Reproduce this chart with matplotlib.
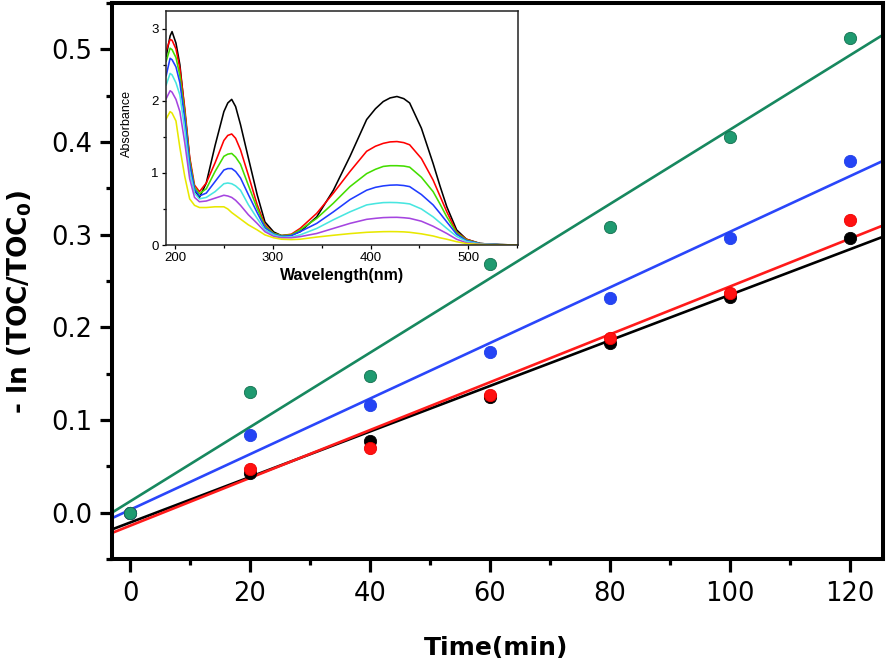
import numpy as np
import matplotlib
matplotlib.use("Agg")
import matplotlib.pyplot as plt
from matplotlib.ticker import MultipleLocator, FormatStrFormatter

# ---------------- main chart data ----------------
time_min = [0, 20, 40, 60, 80, 100, 120]
series_black = [0.0, 0.0427, 0.077, 0.125, 0.1834, 0.2326, 0.2967]
series_red = [0.0, 0.0475, 0.0697, 0.1265, 0.1888, 0.237, 0.316]
series_blue = [0.0, 0.084, 0.1165, 0.173, 0.2315, 0.2967, 0.380]
series_green = [0.0, 0.130, 0.147, 0.268, 0.308, 0.405, 0.512]

x_ticks = [0, 20, 40, 60, 80, 100, 120]
y_ticks = [0.0, 0.1, 0.2, 0.3, 0.4, 0.5]

# ---------------- inset spectra data ----------------
wavelength = [191, 195, 197, 201, 205, 210, 215, 220, 225, 232, 241, 250, 254, 258, 262, 267,
              275, 284, 292, 301, 309, 319, 328, 345, 362, 379, 396, 405, 413, 420, 427, 434, 440,
              452, 464, 471, 478, 488, 498, 512, 532, 550]
abs_black = [2.62, 2.90, 2.96, 2.80, 2.50, 1.85, 1.20, 0.76, 0.66, 0.86, 1.38, 1.85, 1.97, 2.02, 1.92, 1.67,
             1.21, 0.70, 0.32, 0.18, 0.13, 0.14, 0.185, 0.39, 0.76, 1.23, 1.74, 1.89, 1.99, 2.04, 2.06, 2.03, 1.97,
             1.62, 1.13, 0.82, 0.53, 0.21, 0.08, 0.02, 0.005, 0.0]
abs_red = [2.70, 2.85, 2.84, 2.72, 2.45, 1.90, 1.22, 0.83, 0.74, 0.86, 1.14, 1.45, 1.52, 1.54, 1.48, 1.32,
           0.97, 0.56, 0.28, 0.16, 0.13, 0.15, 0.23, 0.44, 0.72, 1.02, 1.30, 1.37, 1.41, 1.43, 1.435, 1.42, 1.39,
           1.20, 0.90, 0.68, 0.46, 0.18, 0.08, 0.02, 0.005, 0.0]
abs_green = [2.55, 2.73, 2.71, 2.60, 2.35, 1.82, 1.17, 0.80, 0.71, 0.78, 1.02, 1.23, 1.26, 1.27, 1.22, 1.12,
             0.83, 0.51, 0.26, 0.16, 0.13, 0.14, 0.21, 0.37, 0.58, 0.81, 0.99, 1.05, 1.09, 1.10, 1.10, 1.095, 1.08,
             0.94, 0.74, 0.57, 0.39, 0.17, 0.07, 0.02, 0.005, 0.0]
abs_blue = [2.35, 2.59, 2.57, 2.47, 2.25, 1.75, 1.12, 0.77, 0.68, 0.72, 0.88, 1.04, 1.06, 1.06, 1.02, 0.93,
            0.70, 0.45, 0.24, 0.15, 0.12, 0.13, 0.185, 0.30, 0.46, 0.63, 0.76, 0.80, 0.82, 0.83, 0.833, 0.825, 0.81,
            0.70, 0.556, 0.44, 0.32, 0.15, 0.06, 0.02, 0.005, 0.0]
abs_cyan = [2.22, 2.38, 2.36, 2.25, 2.08, 1.60, 1.02, 0.72, 0.64, 0.66, 0.74, 0.85, 0.86, 0.85, 0.82, 0.76,
            0.56, 0.37, 0.21, 0.14, 0.11, 0.11, 0.14, 0.23, 0.35, 0.46, 0.556, 0.575, 0.588, 0.59, 0.588, 0.58, 0.57,
            0.50, 0.39, 0.31, 0.23, 0.12, 0.05, 0.015, 0.004, 0.0]
abs_purple = [2.03, 2.14, 2.12, 2.02, 1.85, 1.42, 0.92, 0.66, 0.60, 0.61, 0.65, 0.69, 0.68, 0.66, 0.62, 0.55,
              0.42, 0.30, 0.185, 0.12, 0.10, 0.10, 0.116, 0.16, 0.23, 0.30, 0.356, 0.37, 0.38, 0.383, 0.384, 0.378, 0.37,
              0.33, 0.26, 0.21, 0.16, 0.08, 0.03, 0.01, 0.003, 0.0]
abs_yellow = [1.75, 1.85, 1.83, 1.72, 1.35, 0.95, 0.64, 0.55, 0.52, 0.52, 0.53, 0.53, 0.50, 0.45, 0.41, 0.36,
              0.28, 0.21, 0.14, 0.10, 0.08, 0.075, 0.08, 0.11, 0.135, 0.158, 0.176, 0.181, 0.185, 0.186, 0.185, 0.182, 0.176,
              0.155, 0.125, 0.10, 0.08, 0.046, 0.02, 0.008, 0.002, 0.0]

inset_xticks = [200, 300, 400, 500]
inset_yticks = [0, 1, 2, 3]

# ---------------- figure ----------------
W, H = 886, 663
fig = plt.figure(figsize=(W / 100, H / 100), dpi=100)
ax = fig.add_axes([112 / W, 1 - 559 / H, (883 - 112) / W, (559 - 3) / H])

ax.set_xlim(-3, 125.5)
ax.set_ylim(-0.05, 0.55)

main = [
    (series_black, '#000000', '#000000', '#000000', 3),
    (series_red, '#ff1a1a', '#ff1111', '#ee0000', 4),
    (series_blue, '#2a46fa', '#2544f5', '#2040e8', 5),
    (series_green, '#17885f', '#1f9a70', '#13704f', 6),
]
xfit = np.array(ax.get_xlim())
for vals, lc, fc, ec, z in main:
    k, b = np.polyfit(time_min, vals, 1)
    ax.plot(xfit, k * xfit + b, color=lc, lw=1.9, zorder=2, solid_capstyle='butt')
for vals, lc, fc, ec, z in main:
    ax.scatter(time_min, vals, s=78, color=fc, edgecolor=ec, linewidth=0.6, zorder=z)

for sp in ax.spines.values():
    sp.set_linewidth(2.9)
ax.set_xticks(x_ticks)
ax.set_yticks(y_ticks)
ax.xaxis.set_minor_locator(MultipleLocator(10))
ax.yaxis.set_minor_locator(MultipleLocator(0.05))
ax.yaxis.set_major_formatter(FormatStrFormatter('%.1f'))
ax.tick_params(which='major', direction='out', length=9, width=2.3, labelsize=18.5, pad=5)
ax.tick_params(which='minor', direction='out', length=4.5, width=2.3)
ax.tick_params(axis='x', which='major', pad=7)
for lab in ax.get_xticklabels() + ax.get_yticklabels():
    lab.set_family('DejaVu Sans')

fig.text(496.5 / W, 1 - 655 / H, 'Time(min)', ha='center', va='baseline',
         fontsize=18, fontweight='bold', family='DejaVu Sans')
fig.text(20 / W, 1 - 302 / H, r'- ln (TOC/TOC$_\mathbf{0}$)', ha='center', va='center',
         rotation=90, fontsize=19, fontweight='bold', family='DejaVu Sans')

# ---------------- inset ----------------
axi = fig.add_axes([165.7 / W, 1 - 245 / H, (517.7 - 165.7) / W, (245 - 10.7) / H])
axi.set_xlim(190.5, 550.5)
axi.set_ylim(0, 3.25)
spectra = [
    (abs_black, '#000000'),
    (abs_red, '#ff0000'),
    (abs_green, '#44dd00'),
    (abs_blue, '#1f3cff'),
    (abs_cyan, '#48e6e0'),
    (abs_purple, '#a545e0'),
    (abs_yellow, '#e8e800'),
]
for vals, c in spectra:
    axi.plot(wavelength, vals, color=c, lw=1.15, solid_joinstyle='round')
for sp in axi.spines.values():
    sp.set_linewidth(1.1)
    sp.set_color('#222222')
axi.set_xticks(inset_xticks)
axi.set_yticks(inset_yticks)
axi.xaxis.set_minor_locator(MultipleLocator(50))
axi.yaxis.set_minor_locator(MultipleLocator(0.5))
axi.tick_params(which='major', direction='out', length=3, width=0.9, labelsize=9.5, pad=2)
axi.tick_params(which='minor', direction='out', length=2.5, width=0.9)
for lab in axi.get_xticklabels() + axi.get_yticklabels():
    lab.set_family('Liberation Sans')
axi.set_xlabel('Wavelength(nm)', fontsize=11.5, fontweight='bold', family='Liberation Sans',
               labelpad=3)
fig.text(126.5 / W, 1 - 123.5 / H, 'Absorbance', ha='center', va='center', rotation=90,
         fontsize=9, family='Liberation Sans')

fig.savefig('out.png', dpi=100)
